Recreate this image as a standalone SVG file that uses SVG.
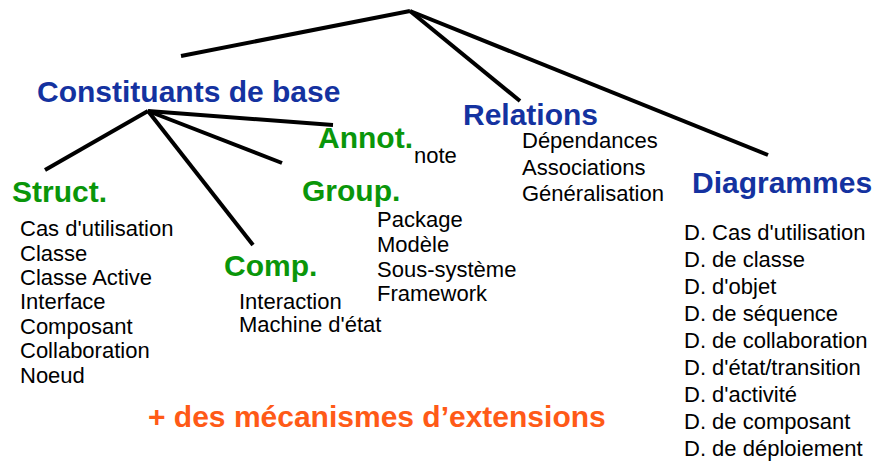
<svg xmlns="http://www.w3.org/2000/svg" width="874" height="462" viewBox="0 0 874 462">
<style>
.h{font-family:"Liberation Sans",Arial,sans-serif;font-weight:bold;font-size:30px}
.blue{fill:#1432a0}
.green{fill:#0a960a}
.orange{fill:#ff5a17}
.t{font-family:"Liberation Sans",Arial,sans-serif;font-size:22px;fill:#000}
.ln{stroke:#000;stroke-width:4;fill:none;stroke-linecap:butt}
</style>
<rect width="874" height="462" fill="#fff"/>
<g id="connectors">
<line class="ln" x1="410" y1="11" x2="181" y2="56"/>
<line class="ln" x1="410" y1="11" x2="520" y2="101"/>
<line class="ln" x1="410" y1="11" x2="768" y2="155"/>
<line class="ln" x1="148" y1="111" x2="45" y2="170"/>
<line class="ln" x1="148" y1="111" x2="253" y2="245"/>
<line class="ln" x1="148" y1="111" x2="282" y2="163"/>
<line class="ln" x1="148" y1="111" x2="333" y2="125"/>
</g>
<g id="constituants">
<text class="h blue" x="37" y="102">Constituants de base</text>
</g>
<g id="annot">
<text class="h green" x="318" y="148">Annot.</text>
<text class="t" x="414" y="163">note</text>
</g>
<g id="struct">
<text class="h green" x="12" y="202">Struct.</text>
<text class="t" x="20" y="236">Cas d'utilisation</text>
<text class="t" x="20" y="261">Classe</text>
<text class="t" x="20" y="285">Classe Active</text>
<text class="t" x="20" y="309">Interface</text>
<text class="t" x="20" y="334">Composant</text>
<text class="t" x="20" y="358">Collaboration</text>
<text class="t" x="20" y="383">Noeud</text>
</g>
<g id="comp">
<text class="h green" x="224" y="276">Comp.</text>
<text class="t" x="239" y="309">Interaction</text>
<text class="t" x="239" y="332">Machine d'état</text>
</g>
<g id="group">
<text class="h green" x="302" y="201">Group.</text>
<text class="t" x="377" y="227">Package</text>
<text class="t" x="377" y="252">Modèle</text>
<text class="t" x="377" y="277">Sous-système</text>
<text class="t" x="377" y="301">Framework</text>
</g>
<g id="relations">
<text class="h blue" x="463" y="125">Relations</text>
<text class="t" x="522" y="148">Dépendances</text>
<text class="t" x="522" y="175">Associations</text>
<text class="t" x="522" y="201">Généralisation</text>
</g>
<g id="diagrammes">
<text class="h blue" x="692" y="193">Diagrammes</text>
<text class="t" x="684" y="240">D. Cas d'utilisation</text>
<text class="t" x="684" y="267">D. de classe</text>
<text class="t" x="684" y="294">D. d'objet</text>
<text class="t" x="684" y="321">D. de séquence</text>
<text class="t" x="684" y="348">D. de collaboration</text>
<text class="t" x="684" y="375">D. d'état/transition</text>
<text class="t" x="684" y="402">D. d'activité</text>
<text class="t" x="684" y="429">D. de composant</text>
<text class="t" x="684" y="456">D. de déploiement</text>
</g>
<g id="extensions">
<text class="h orange" x="148" y="427">+ des mécanismes d’extensions</text>
</g>
</svg>
